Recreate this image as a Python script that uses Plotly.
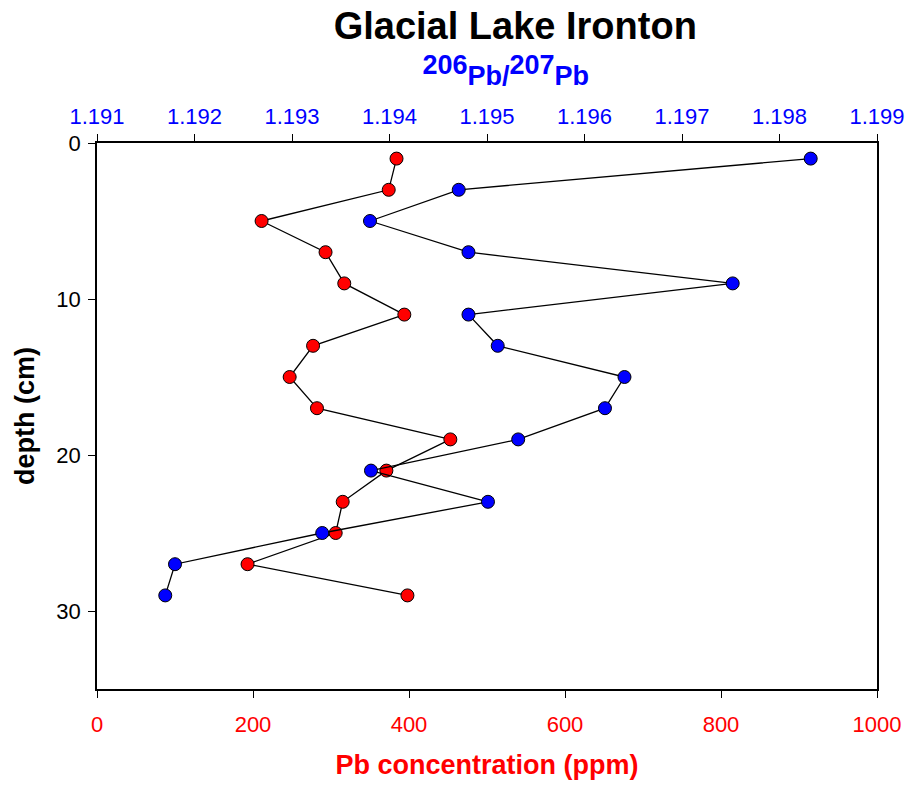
import plotly.graph_objects as go

depth = [1, 3, 5, 7, 9, 11, 13, 15, 17, 19, 21, 23, 25, 27, 29]
pb_conc = [384, 374, 211, 293, 317, 394, 277, 247, 282, 453, 371, 315, 306, 193, 398]
pb_ratio = [1.19832, 1.19471, 1.19380, 1.19481, 1.19752, 1.19481, 1.19511, 1.19641,
            1.19621, 1.19532, 1.19381, 1.19501, 1.19331, 1.19180, 1.19170]

bottom_ticks = [0, 200, 400, 600, 800, 1000]
top_ticks = [1.191, 1.192, 1.193, 1.194, 1.195, 1.196, 1.197, 1.198, 1.199]
depth_ticks = [0, 10, 20, 30]

FONT = "Liberation Sans, Arial, sans-serif"
TICK = 22
AX = 27

fig = go.Figure()
fig.add_trace(go.Scatter(
    x=pb_ratio, y=depth, xaxis="x2", yaxis="y", mode="lines+markers",
    line=dict(color="black", width=1.3),
    marker=dict(color="#0000ff", size=13, line=dict(color="black", width=1)),
    showlegend=False))
fig.add_trace(go.Scatter(
    x=pb_conc, y=depth, xaxis="x", yaxis="y", mode="lines+markers",
    line=dict(color="black", width=1.3),
    marker=dict(color="#ff0000", size=13, line=dict(color="black", width=1)),
    showlegend=False))

sup206 = "<sup><span style='font-size:%dpx'>206</span></sup>" % AX
sup207 = "<sup><span style='font-size:%dpx'>207</span></sup>" % AX
top_title = "<b>" + "&nbsp;" * 5 + sup206 + "Pb/" + sup207 + "Pb</b>"

fig.update_layout(
    width=912, height=785,
    margin=dict(l=97, r=35, t=143, b=96),
    paper_bgcolor="white", plot_bgcolor="white",
    font=dict(family=FONT, size=TICK, color="black"),
    title=dict(text="<b>Glacial Lake Ironton</b>", x=0.565, xanchor="center",
               y=0.967, yanchor="middle", font=dict(size=38, color="black", family=FONT)),
    xaxis=dict(range=[0, 1000], tickvals=bottom_ticks, ticks="outside", ticklen=7,
               tickcolor="black", showline=True, linecolor="black", linewidth=1.5,
               showgrid=False, zeroline=False, ticklabelstandoff=8, automargin=False,
               tickfont=dict(color="#ff0000", size=TICK),
               title=dict(text="<b>Pb concentration (ppm)</b>", standoff=19,
                          font=dict(color="#ff0000", size=AX))),
    xaxis2=dict(range=[1.191, 1.199], tickvals=top_ticks, tickformat=".3f",
                overlaying="x", side="top", ticks="outside", ticklen=7,
                tickcolor="black", showline=True, linecolor="black", linewidth=1.5,
                showgrid=False, zeroline=False, ticklabelstandoff=1, automargin=False,
                tickfont=dict(color="#0000ff", size=TICK),
                title=dict(text=top_title, standoff=11,
                           font=dict(color="#0000ff", size=AX))),
    yaxis=dict(range=[35, 0], tickvals=depth_ticks, ticks="outside", ticklen=7,
               tickcolor="black", showline=True, mirror=True, linecolor="black",
               linewidth=1.5, showgrid=False, zeroline=False, ticklabelstandoff=3,
               automargin=False,
               tickfont=dict(color="black", size=TICK),
               title=dict(text="<b>depth (cm)</b>", standoff=14,
                          font=dict(color="black", size=AX))),
)

fig.write_html("out.html")
